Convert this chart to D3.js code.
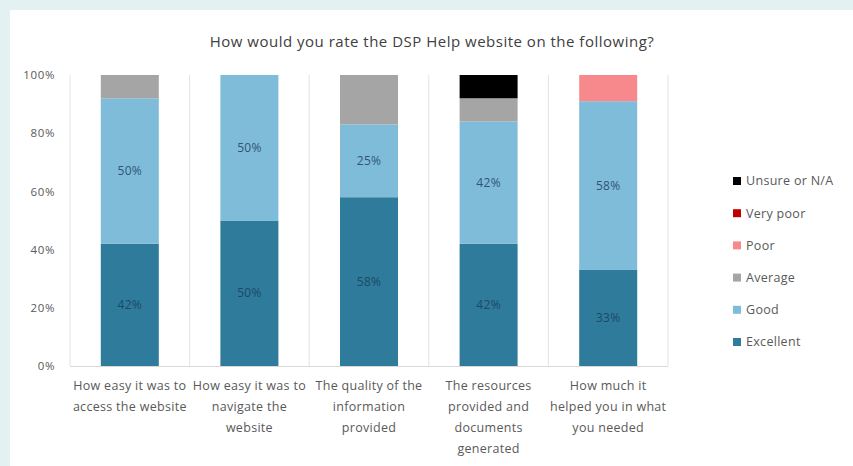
<!DOCTYPE html>
<html>
<head>
<meta charset="utf-8">
<script src="https://cdn.jsdelivr.net/npm/d3@7"></script>
<style>
  html, body { margin: 0; padding: 0; background: #e4f1f3; }
  svg { display: block; }
  text { font-family: "Open Sans", "Noto Sans", sans-serif; }
</style>
</head>
<body>
<svg id="chart" width="853" height="466"></svg>
<script>
// Survey question categories (x axis), each label split into its lines
const categories = [
  ["How easy it was to", "access the website"],
  ["How easy it was to", "navigate the", "website"],
  ["The quality of the", "information", "provided"],
  ["The resources", "provided and", "documents", "generated"],
  ["How much it", "helped you in what", "you needed"]
];

// Response shares (%) per rating, one value per category
const excellent = [42, 50, 58, 42, 33];
const good      = [50, 50, 25, 42, 58];
const average   = [8, 0, 17, 8, 0];
const poor      = [0, 0, 0, 0, 9];
const veryPoor  = [0, 0, 0, 0, 0];
const unsure    = [0, 0, 0, 8, 0];

const seriesNames  = ["Excellent", "Good", "Average", "Poor", "Very poor", "Unsure or N/A"];
const seriesColors = ["#2e7b9b", "#7fbcd9", "#a5a5a5", "#f7898c", "#c00000", "#000000"];
const labelledSeries = ["Excellent", "Good"];

const yTicks = [0, 20, 40, 60, 80, 100];
const title = "How would you rate the DSP Help website on the following?";

const svg = d3.select("#chart");
const W = 853, H = 466;

// white card on the tinted page
svg.append("rect").attr("x", 10).attr("y", 10).attr("width", W - 10).attr("height", H - 10).attr("fill", "#ffffff");

const plot = { left: 70, right: 668, top: 75, bottom: 366 };

const rows = categories.map((c, i) => ({
  idx: i,
  "Excellent": excellent[i], "Good": good[i], "Average": average[i],
  "Poor": poor[i], "Very poor": veryPoor[i], "Unsure or N/A": unsure[i]
}));

const stack = d3.stack().keys(seriesNames)(rows);

const x = d3.scaleBand().domain(d3.range(categories.length))
  .range([plot.left, plot.right]).paddingInner(0).paddingOuter(0);
const barW = 58;
const y = d3.scaleLinear().domain([0, 100]).range([plot.bottom, plot.top]);
const color = d3.scaleOrdinal().domain(seriesNames).range(seriesColors);

// vertical separators between categories
const seps = d3.range(categories.length + 1).map(i => plot.left + i * x.bandwidth());
svg.append("g").selectAll("line").data(seps).join("line")
  .attr("x1", d => d).attr("x2", d => d)
  .attr("y1", plot.top).attr("y2", plot.bottom)
  .attr("stroke", "#e3e3e3").attr("stroke-width", 1);

// baseline
svg.append("line")
  .attr("x1", plot.left).attr("x2", plot.right)
  .attr("y1", plot.bottom + 0.5).attr("y2", plot.bottom + 0.5)
  .attr("stroke", "#d9d9d9").attr("stroke-width", 1);

// y axis
const yAxis = d3.axisLeft(y).tickValues(yTicks).tickFormat(d => d + "%").tickSize(0).tickPadding(15);
const yg = svg.append("g").attr("transform", `translate(${plot.left},0)`).call(yAxis);
yg.select(".domain").remove();
yg.selectAll("text").attr("font-size", 11.5).attr("letter-spacing", 0.6).attr("fill", "#595959")
  .attr("font-family", "'Open Sans', sans-serif");

// stacked bars
const layers = svg.append("g").selectAll("g").data(stack).join("g")
  .attr("fill", d => color(d.key));
layers.selectAll("rect").data(d => d).join("rect")
  .attr("x", d => x(d.data.idx) + (x.bandwidth() - barW) / 2)
  .attr("width", barW)
  .attr("y", d => y(d[1]))
  .attr("height", d => y(d[0]) - y(d[1]));

// value labels
const labelG = svg.append("g");
stack.filter(s => labelledSeries.includes(s.key)).forEach(s => {
  s.forEach(d => {
    const v = d[1] - d[0];
    if (v <= 0) return;
    labelG.append("text")
      .attr("x", x(d.data.idx) + x.bandwidth() / 2)
      .attr("y", (y(d[0]) + y(d[1])) / 2)
      .attr("dy", "0.35em")
      .attr("text-anchor", "middle")
      .attr("font-size", 12)
      .attr("letter-spacing", 0.3)
      .attr("fill", s.key === "Excellent" ? "#1d4a66" : "#2f5575")
      .text(v + "%");
  });
});

// category labels
const xg = svg.append("g");
categories.forEach((lines, i) => {
  const t = xg.append("text")
    .attr("x", x(i) + x.bandwidth() / 2)
    .attr("y", plot.bottom + 24)
    .attr("text-anchor", "middle")
    .attr("font-size", 12.5)
    .attr("letter-spacing", 0.3)
    .attr("fill", "#595959");
  lines.forEach((ln, j) => {
    t.append("tspan").attr("x", x(i) + x.bandwidth() / 2).attr("dy", j === 0 ? 0 : 21).text(ln);
  });
});

// title
svg.append("text").attr("x", 432).attr("y", 47).attr("text-anchor", "middle")
  .attr("font-size", 15).attr("letter-spacing", 0.5).attr("fill", "#404040").text(title);

// legend (top to bottom: reverse stacking order)
const legendItems = seriesNames.slice().reverse();
const lg = svg.append("g");
legendItems.forEach((name, i) => {
  const yy = 181 + i * 32.2;
  lg.append("rect").attr("x", 733).attr("y", yy - 4).attr("width", 8).attr("height", 8).attr("fill", color(name));
  lg.append("text").attr("x", 746).attr("y", yy).attr("dy", "0.35em")
    .attr("font-size", 12.5).attr("letter-spacing", 0.3).attr("fill", "#595959").text(name);
});
</script>
</body>
</html>
